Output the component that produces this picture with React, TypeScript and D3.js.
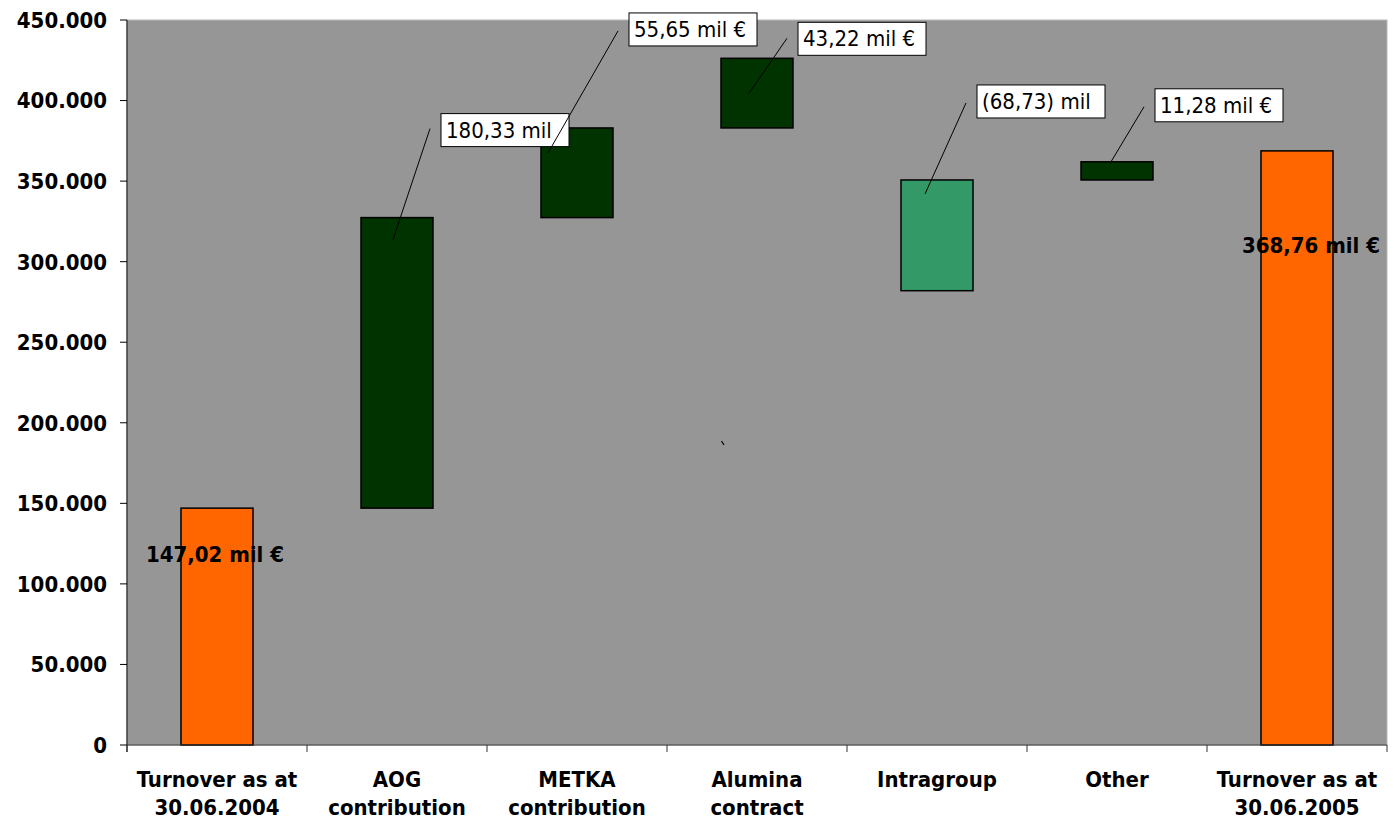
import React from "react";
import * as d3 from "d3";

// Turnover bridge, 30.06.2004 -> 30.06.2005 (values in thousand €)
const categories = [
  "Turnover as at|30.06.2004",
  "AOG|contribution",
  "METKA|contribution",
  "Alumina|contract",
  "Intragroup",
  "Other",
  "Turnover as at|30.06.2005",
];
// invisible floor of each floating bar
const baseValues = [0, 147020, 327350, 383000, 281980, 350710, 0];
// visible height of each bar
const barValues = [147020, 180330, 55650, 43220, 68730, 11280, 368760];
const barKinds = ["total", "up", "up", "up", "down", "up", "total"];
const barLabels = [
  "147,02 mil €",
  "180,33 mil",
  "55,65 mil €",
  "43,22 mil €",
  "(68,73) mil",
  "11,28 mil €",
  "368,76 mil €",
];
const yTicks = [0, 50000, 100000, 150000, 200000, 250000, 300000, 350000, 400000, 450000];

const W = 1395;
const H = 820;
const plot = { left: 127, right: 1387, top: 20, bottom: 745 };

const COLORS: Record<string, string> = {
  total: "#FF6600",
  up: "#003300",
  down: "#339966",
};

const FONT = "'DejaVu Sans Condensed', 'DejaVu Sans', sans-serif";

// callout placement: box offset from bar's top-right corner, leader end offset from bar's top-left
const calloutLayout: Record<number, { bx: number; by: number; ex: number; ey: number; sy: number }> = {
  1: { bx: 8, by: -104, ex: 32, ey: 22, sy: 15 },
  2: { bx: 16, by: -115, ex: 7, ey: 25, sy: 18 },
  3: { bx: 5, by: -36, ex: 28, ey: 35, sy: 16 },
  4: { bx: 4, by: -95, ex: 24, ey: 14, sy: 18 },
  5: { bx: 2, by: -73, ex: 30, ey: 0, sy: 18 },
};
// bold in-bar labels for the totals: offset from bar centre / top
const totalLabelLayout: Record<number, { dx: number; dy: number }> = {
  0: { dx: -2, dy: 54 },
  6: { dx: 14, dy: 102 },
};

const loc = d3.formatLocale({ decimal: ",", thousands: ".", grouping: [3], currency: ["", "€"] });
const fmt = loc.format(",");

export default function App() {
  const x = d3
    .scaleBand<string>()
    .domain(categories)
    .range([plot.left, plot.right])
    .paddingInner(0.6)
    .paddingOuter(0.3);
  const y = d3.scaleLinear().domain([0, 450000]).range([plot.bottom, plot.top]);
  const step = x.step();
  const bw = x.bandwidth();
  const gap = (step - bw) / 2;

  const boundaries = d3.range(categories.length + 1).map((i) =>
    i < categories.length ? (x(categories[i]) as number) - gap : (x(categories[i - 1]) as number) + bw + gap
  );

  return (
    <svg
      width={W}
      height={H}
      style={{ position: "absolute", left: 0, top: 0, display: "block", background: "#fff" }}
    >
      <rect
        x={plot.left}
        y={plot.top}
        width={plot.right - plot.left}
        height={plot.bottom - plot.top}
        fill="#969696"
        stroke="#b8b8b8"
        strokeWidth={1}
      />

      {/* bars */}
      {categories.map((c, i) => {
        const x0 = x(c) as number;
        const yTop = y(baseValues[i] + barValues[i]);
        const yBot = y(baseValues[i]);
        return (
          <rect
            key={c}
            x={x0}
            y={yTop}
            width={bw}
            height={yBot - yTop}
            fill={COLORS[barKinds[i]]}
            stroke="#000"
            strokeWidth={1.5}
          />
        );
      })}

      {/* y axis */}
      <line x1={plot.left} x2={plot.left} y1={plot.top} y2={plot.bottom + 7} stroke="#000" strokeWidth={1} />
      {yTicks.map((t) => (
        <g key={t}>
          <line x1={plot.left - 7} x2={plot.left} y1={y(t)} y2={y(t)} stroke="#000" />
          <text
            x={plot.left - 20}
            y={y(t)}
            dy="0.36em"
            textAnchor="end"
            fontFamily={FONT}
            fontWeight="bold"
            fontSize={22}
            fill="#000"
          >
            {fmt(t)}
          </text>
        </g>
      ))}

      {/* x axis */}
      <line x1={plot.left} x2={plot.right} y1={plot.bottom} y2={plot.bottom} stroke="#333" strokeWidth={1.2} />
      {boundaries.map((bx, i) => (
        <line key={i} x1={bx} x2={bx} y1={plot.bottom} y2={plot.bottom + 7} stroke="#333" />
      ))}
      {categories.map((c) => {
        const cx = (x(c) as number) + bw / 2;
        const lines = c.split("|");
        return (
          <text
            key={c}
            textAnchor="middle"
            fontFamily={FONT}
            fontWeight="bold"
            fontSize={22}
            fill="#000"
          >
            {lines.map((l, k) => (
              <tspan key={k} x={cx} y={787 + k * 28}>
                {l}
              </tspan>
            ))}
          </text>
        );
      })}

      {/* bold labels on the totals */}
      {Object.entries(totalLabelLayout).map(([k, o]) => {
        const i = +k;
        const c = categories[i];
        const cx = (x(c) as number) + bw / 2 + o.dx;
        const yTop = y(baseValues[i] + barValues[i]);
        return (
          <text
            key={k}
            x={cx}
            y={yTop + o.dy}
            textAnchor="middle"
            fontFamily={FONT}
            fontWeight="bold"
            fontSize={22}
            fill="#000"
          >
            {barLabels[i]}
          </text>
        );
      })}

      {/* callouts for the changes */}
      {Object.entries(calloutLayout).map(([k, o]) => {
        const i = +k;
        const c = categories[i];
        const x0 = x(c) as number;
        const yTop = y(baseValues[i] + barValues[i]);
        const boxX = x0 + bw + o.bx;
        const boxY = yTop + o.by;
        return (
          <g key={k}>
            <line x1={boxX - 11} y1={boxY + o.sy} x2={x0 + o.ex} y2={yTop + o.ey} stroke="#000" strokeWidth={1} />
            <rect x={boxX} y={boxY} width={128} height={33} fill="#fff" stroke="#000" strokeWidth={1} />
            <text x={boxX + 5} y={boxY + 24} fontFamily={FONT} fontSize={22} fill="#000">
              {barLabels[i]}
            </text>
          </g>
        );
      })}

      {/* stray leader stub below the Alumina bar */}
      <line
        x1={(x(categories[3]) as number) + 0.5}
        y1={y(188700)}
        x2={(x(categories[3]) as number) + 3}
        y2={y(188700) + 4}
        stroke="#000"
        strokeWidth={1.2}
      />
    </svg>
  );
}
